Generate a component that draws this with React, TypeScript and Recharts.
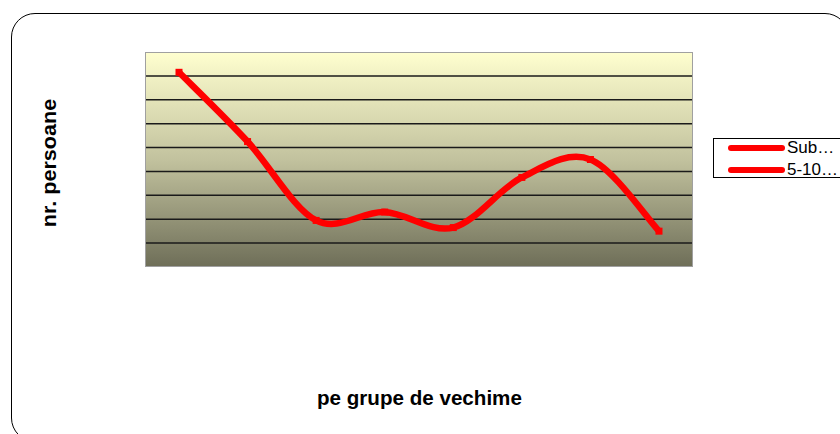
import React from 'react';
import { LineChart, Line, XAxis, YAxis, CartesianGrid, Legend } from 'recharts';

const categories = ['G1', 'G2', 'G3', 'G4', 'G5', 'G6', 'G7', 'G8'];
const seriesNames = ['Sub 5 ani', '5-10 ani'];
const series1 = [16.3, 10.5, 3.9, 4.6, 3.3, 7.5, 9.0, 3.0];
const series2: (number | null)[] = [null, null, null, null, null, null, null, null];
const yTicks = [0, 2, 4, 6, 8, 10, 12, 14, 16, 18];
const yTitle = 'nr. persoane';
const xTitle = 'pe grupe de vechime';

const data = categories.map((c, i) => ({ cat: c, s1: series1[i], s2: series2[i] }));

function excelCurve(context: any) {
  let pts: [number, number][] = [];
  return {
    areaStart() {},
    areaEnd() {},
    lineStart() {
      pts = [];
    },
    lineEnd() {
      if (!pts.length) return;
      context.moveTo(pts[0][0], pts[0][1]);
      for (let i = 0; i < pts.length - 1; i++) {
        const p0 = pts[Math.max(0, i - 1)];
        const p1 = pts[i];
        const p2 = pts[i + 1];
        const p3 = pts[Math.min(pts.length - 1, i + 2)];
        context.bezierCurveTo(
          p1[0] + (p2[0] - p0[0]) / 6,
          p1[1] + (p2[1] - p0[1]) / 6,
          p2[0] - (p3[0] - p1[0]) / 6,
          p2[1] - (p3[1] - p1[1]) / 6,
          p2[0],
          p2[1]
        );
      }
    },
    point(x: number, y: number) {
      pts.push([+x, +y]);
    },
  };
}

const SquareDot = (props: any) => {
  const { cx, cy, key } = props;
  if (cx == null || cy == null) return <g key={key} />;
  return <rect key={key} x={cx - 3.5} y={cy - 3.5} width={7} height={7} fill="#ff0000" />;
};

const LegendBox = (props: any) => {
  const payload = [...(props.payload || [])].sort(
    (a: any, b: any) => seriesNames.indexOf(a.value) - seriesNames.indexOf(b.value)
  );
  return (
    <div
      style={{
        border: '1px solid #000',
        background: '#fff',
        width: 140,
        height: 40,
        boxSizing: 'border-box',
        padding: '0 0 0 14px',
        fontFamily: '"Liberation Sans", Arial, sans-serif',
        fontSize: 17,
        lineHeight: '22px',
      }}
    >
      {payload.map((p: any, i: number) => (
        <div key={i} style={{ display: 'flex', alignItems: 'center', height: 22, marginTop: i === 0 ? -2 : 0 }}>
          <div style={{ width: 57, height: 6, borderRadius: 3, background: p.color, marginRight: 2 }} />
          <span style={{ whiteSpace: 'nowrap', color: '#000' }}>{String(p.value).split(' ')[0] + '…'}</span>
        </div>
      ))}
    </div>
  );
};

export default function App() {
  return (
    <div style={{ position: 'fixed', left: 0, top: 0, width: 840, height: 434, overflow: 'hidden', background: '#fff' }}>
      <div
        style={{
          position: 'absolute',
          left: 11,
          top: 13,
          width: 838,
          height: 429,
          border: '1.5px solid #000',
          borderRadius: 24,
          boxSizing: 'border-box',
        }}
      />
      <div style={{ position: 'absolute', left: 0, top: 0 }}>
        <LineChart width={840} height={434} data={data} margin={{ top: 52, right: 147, bottom: 167, left: 145 }}>
          <defs>
            <linearGradient id="plotBg" x1="0" y1="0" x2="0" y2="1">
              <stop offset="0%" stopColor="#ffffcf" />
              <stop offset="50%" stopColor="#c2c29e" />
              <stop offset="100%" stopColor="#6e6e58" />
            </linearGradient>
          </defs>
          <CartesianGrid
            vertical={false}
            stroke="#1a1a1a"
            strokeWidth={1.5}
            fill="url(#plotBg)"
            fillOpacity={1}
            horizontalCoordinatesGenerator={(p: any) =>
              yTicks.slice(1, -1).map((t) => p.offset.top + p.offset.height * (1 - t / 18))
            }
          />
          <XAxis dataKey="cat" hide padding={{ left: 34, right: 34 }} />
          <YAxis hide domain={[0, 18]} ticks={yTicks} />
          <Legend
            layout="horizontal"
            verticalAlign="middle"
            align="center"
            wrapperStyle={{ position: 'absolute', left: 713, top: 138, width: 140, height: 40 }}
            content={LegendBox}
          />
          <Line
            name={seriesNames[0]}
            dataKey="s1"
            stroke="#ff0000"
            strokeWidth={6.5}
            type={excelCurve as any}
            dot={SquareDot}
            activeDot={false}
            isAnimationActive={false}
          />
          <Line
            name={seriesNames[1]}
            dataKey="s2"
            stroke="#ff0000"
            strokeWidth={6.5}
            type={excelCurve as any}
            dot={false}
            activeDot={false}
            isAnimationActive={false}
          />
        </LineChart>
      </div>
      <div
        style={{
          position: 'absolute',
          left: 145,
          top: 52,
          width: 548,
          height: 215,
          border: '1.5px solid #a0a0a0',
          boxSizing: 'border-box',
          pointerEvents: 'none',
        }}
      />
      <div
        style={{
          position: 'absolute',
          left: 317,
          top: 386,
          fontFamily: '"Liberation Sans", Arial, sans-serif',
          fontWeight: 'bold',
          fontSize: 20.6,
          color: '#000',
          whiteSpace: 'nowrap',
        }}
      >
        {xTitle}
      </div>
      <div
        style={{
          position: 'absolute',
          left: 49,
          top: 163,
          transform: 'translate(-50%, -50%) rotate(-90deg) scaleX(1.08)',
          fontFamily: '"Liberation Sans", Arial, sans-serif',
          fontWeight: 'bold',
          fontSize: 20,
          whiteSpace: 'nowrap',
          color: '#000',
        }}
      >
        {yTitle}
      </div>
    </div>
  );
}
